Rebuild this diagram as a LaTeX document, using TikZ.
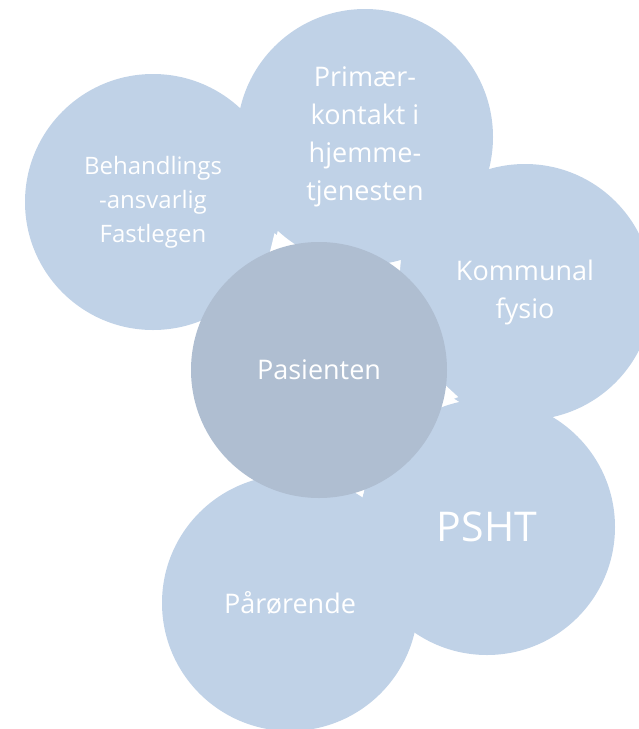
\documentclass[tikz,border=0pt]{standalone}
\usepackage{fontspec}
\setmainfont{Open Sans}
\usetikzlibrary{arrows.meta}
\definecolor{ringblue}{RGB}{192,210,231}
\definecolor{hubblue}{RGB}{175,190,209}

\begin{document}
\begin{tikzpicture}[x=1pt,y=-1pt,
  party/.style={circle, fill=ringblue, minimum size=256pt, inner sep=0pt,
    text=white, align=center, font=\fontsize{27}{38}\selectfont},
  hub/.style={party, fill=hubblue},
  cyclearrow/.style={white, line width=4pt, -{Triangle[length=22pt,width=26pt]}}]
\useasboundingbox (0,0) rectangle (638,729);
\node[party, font=\fontsize{24}{34}\selectfont] (lege) at (153,202) {Behandlings\\-ansvarlig\\Fastlegen};
\node[party] (prim) at (365,137) {Primær-\\kontakt i\\hjemme-\\tjenesten};
\node[party] (fysio) at (525,292) {Kommunal\\fysio};
\node[party, font=\fontsize{41}{48}\selectfont] (psht) at (487,527) {PSHT};
\node[party] (paar) at (290,603) {Pårørende};
\coordinate (mid) at (319,370);
\coordinate (t1) at ([shift={(108:144pt)}]mid);
\coordinate (t2) at ([shift={(53:136pt)}]mid);
\coordinate (t3) at ([shift={(-11:142pt)}]mid);
\coordinate (t4) at ([shift={(-71:134pt)}]mid);
\foreach \t in {t1,t2,t3,t4}
  \draw[cyclearrow] (mid) -- (\t);
\node[hub] (pas) at (mid) {Pasienten};
\end{tikzpicture}
\end{document}
